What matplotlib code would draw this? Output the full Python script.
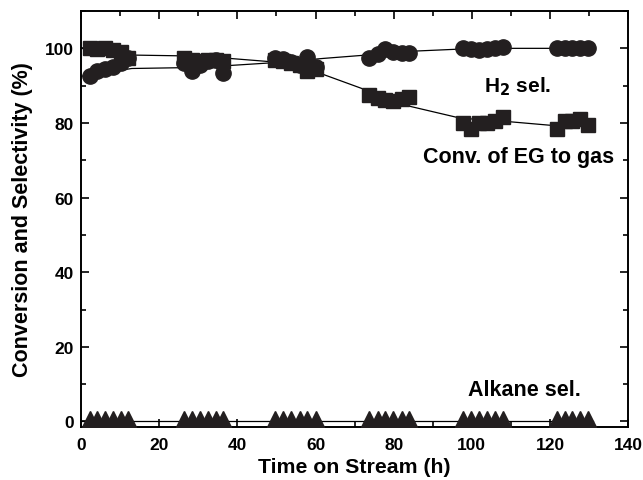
import matplotlib
matplotlib.use("Agg")
import matplotlib.pyplot as plt
from matplotlib.ticker import MultipleLocator

plt.rcParams['font.family'] = ['Liberation Sans', 'DejaVu Sans']
plt.rcParams['font.weight'] = 'bold'
plt.rcParams['mathtext.default'] = 'bf'

# sampling times, one list per run block
t_a = [2.3, 4.2, 6.2, 8.1, 10.2, 12.1]
t_b = [26.4, 28.4, 30.5, 32.4, 34.6, 36.4]
t_c = [49.7, 51.8, 53.8, 55.9, 57.8, 60.0]
t_d = [73.8, 75.9, 77.9, 79.8, 82.0, 83.8]
t_e = [97.7, 99.9, 101.8, 103.8, 105.9, 107.9]
t_f = [121.8, 123.7, 125.7, 127.7, 129.7]
time = t_a + t_b + t_c + t_d + t_e + t_f

# conversion of EG to gas (%)
conv = [100.0, 99.8, 100.0, 99.5, 99.0, 97.5,
        97.5, 97.0, 96.5, 97.0, 96.8, 96.5,
        97.0, 96.5, 96.0, 95.5, 94.0, 94.5,
        87.5, 86.8, 86.2, 85.8, 86.5, 87.0,
        80.0, 78.5, 80.0, 80.0, 80.5, 81.5,
        78.5, 80.5, 80.5, 81.0, 79.5]

# H2 selectivity (%)
h2_sel = [92.5, 94.0, 94.5, 95.0, 96.0, 97.3,
          96.0, 94.0, 95.5, 96.5, 97.0, 93.5,
          97.5, 97.2, 96.3, 95.5, 97.6, 95.0,
          97.5, 98.6, 99.8, 99.0, 98.8, 98.8,
          100.0, 99.8, 99.6, 99.8, 100.0, 100.4,
          100.0, 100.0, 100.0, 100.1, 100.0]

# alkane selectivity (%)
alk_sel = [0.8] * len(time)

# trend lines drawn through each series
fit_t = [0, 13, 25, 38, 50, 62, 73, 84, 97, 110, 121, 131]
fit_conv = [100.0, 98.2, 98.0, 97.3, 96.3, 93.0, 88.8, 84.5, 81.3, 80.3, 79.3, 79.2]
fit_h2 = [92.5, 94.6, 94.8, 95.4, 96.2, 97.3, 98.2, 99.2, 99.8, 100.0, 100.0, 100.0]
fit_alk_t = [0, 131]
fit_alk = [0.0, 0.0]

mk = '#231f20'

fig = plt.figure(figsize=(6.43, 4.81), dpi=100)
ax = fig.add_axes([0.126, 0.110, 0.851, 0.865])

ax.plot(fit_t, fit_conv, color='black', lw=0.9, zorder=1)
ax.plot(fit_t, fit_h2, color='black', lw=0.9, zorder=1)
ax.plot(fit_alk_t, fit_alk, color='black', lw=0.9, zorder=1)

ax.plot(time, conv, 's', color=mk, ms=10.5, mec=mk, zorder=3)
ax.plot(time, h2_sel, 'o', color=mk, ms=11, mec=mk, zorder=3)
ax.plot(time, alk_sel, '^', color=mk, ms=11, mec=mk, zorder=3)

ax.set_xlim(0, 140)
ax.set_ylim(-1.5, 110)
ax.xaxis.set_major_locator(MultipleLocator(20))
ax.xaxis.set_minor_locator(MultipleLocator(10))
ax.yaxis.set_major_locator(MultipleLocator(20))
ax.yaxis.set_minor_locator(MultipleLocator(10))
ax.tick_params(which='both', direction='in', top=True, right=True,
               labelsize=12.5, width=1.2)
ax.tick_params(which='major', length=6)
ax.tick_params(which='minor', length=3.5)
ax.tick_params(axis='x', pad=7)
ax.tick_params(axis='y', pad=5)
for lab in ax.get_xticklabels() + ax.get_yticklabels():
    lab.set_fontweight('bold')
for sp in ax.spines.values():
    sp.set_linewidth(1.4)

ax.set_xlabel('Time on Stream (h)', fontsize=15.3, fontweight='bold', labelpad=4)
ax.set_ylabel('Conversion and Selectivity (%)', fontsize=15.5, fontweight='bold', labelpad=9)

ax.text(103, 90, r'H$_2$ sel.', fontsize=15, fontweight='bold', va='center')
ax.text(87.5, 71, 'Conv. of EG to gas', fontsize=15.5, fontweight='bold', va='center')
ax.text(99, 8.7, 'Alkane sel.', fontsize=15.5, fontweight='bold', va='center')

fig.savefig('out.png', dpi=100)
